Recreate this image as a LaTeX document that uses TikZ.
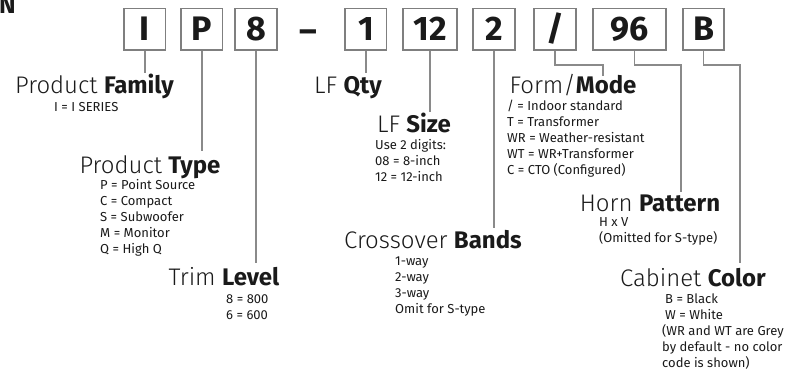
\documentclass[tikz,border=0pt]{standalone}
\usepackage{fontspec}
\setmainfont{Fira Sans}
\newfontfamily\lightfont{Fira Sans Light}
\definecolor{boxgray}{HTML}{7F7F7F}
\definecolor{linegray}{HTML}{8A8A8A}
\definecolor{ink}{HTML}{1A1A1A}
\newcommand\mysublist[4]{%
  \foreach \t [count=\i] in {#4}
    \node[subtxt, anchor=base west] (#1\i) at ({#2},{#3+16*(\i-1)}) {\t};}
\begin{document}
\begin{tikzpicture}[x=1pt,y=-1pt,
  cbox/.style={draw=boxgray, line width=1.4pt, minimum height=41.7pt, inner sep=0pt,
    font=\bfseries\fontsize{34}{36}\selectfont, text=ink, text height=23.4pt, text depth=0pt},
  conn/.style={draw=linegray, line width=1.5pt},
  head/.style={font=\fontsize{24}{28}\selectfont, text=ink, inner sep=0pt, anchor=base},
  subtxt/.style={font=\fontsize{13}{16}\selectfont, text=ink, inner sep=0pt}]
\useasboundingbox (0,0) rectangle (804,375);
% clipped heading letter
\node[font=\bfseries\fontsize{25}{28}\selectfont, text=ink, inner sep=0pt, anchor=base west] (ntop) at (-1,13) {N};
% code boxes
\node[cbox, minimum width=41.7pt] (bI) at (144.9,29.2) {I};
\node[cbox, minimum width=41.7pt] (bP) at (201.9,29.2) {P};
\node[cbox, minimum width=42pt] (b8) at (256,29.2) {8};
\node[font=\bfseries\fontsize{34}{36}\selectfont, text=ink, inner sep=0pt, anchor=base] (dash) at (308.5,42.7) {–};
\node[cbox, minimum width=41.7pt] (b1) at (365.9,29.2) {1};
\node[cbox, minimum width=54pt] (b12) at (430,29.2) {12};
\node[cbox, minimum width=42pt] (b2) at (494,29.2) {2};
\node[cbox, minimum width=42pt] (bsl) at (555,29.2) {/};
\node[cbox, minimum width=73pt] (b96) at (629.5,29.2) {96};
\node[cbox, minimum width=41pt] (bB) at (703.5,29.2) {B};
% headings
\node[head] (hfam) at (94.5,93) {{\lightfont Product} \textbf{Family}};
\node[head] (htype) at (150,173) {{\lightfont Product} \textbf{Type}};
\node[head] (htrim) at (224,285.6) {{\lightfont Trim} \textbf{Level}};
\node[head] (hqty) at (348,93) {{\lightfont LF} \textbf{Qty}};
\node[head] (hsize) at (414,132) {{\lightfont LF} \textbf{Size}};
\node[head] (hband) at (433,248) {{\lightfont Crossover} \textbf{Bands}};
\node[head] (hform) at (573,93) {{\lightfont Form/}\textbf{Mode}};
\node[head] (hhorn) at (650,211) {{\lightfont Horn} \textbf{Pattern}};
\node[head] (hcol) at (693,286) {{\lightfont Cabinet} \textbf{Color}};
% sub-lists
\mysublist{sfam}{54}{111}{I = I SERIES}
\mysublist{stype}{100}{189.3}{P = Point Source, C = Compact, S = Subwoofer, M = Monitor, Q = High Q}
\mysublist{strim}{226}{303}{8 = 800, 6 = 600}
\mysublist{ssize}{375}{149}{Use 2 digits:, 08 = 8-inch, 12 = 12-inch}
\mysublist{sband}{395}{265.7}{1-way, 2-way, 3-way, Omit for S-type}
\mysublist{sform}{507}{110.7}{/ = Indoor standard, T = Transformer, WR = Weather-resistant, WT = WR+Transformer, {C = CTO (Configured)}}
\mysublist{shorn}{599}{226.7}{H x V, {(Omitted for S-type)}}
\mysublist{scolA}{665}{303.3}{B = Black, W = White}
\mysublist{scolB}{662}{335.3}{{(WR and WT are Grey}, by default - no color, {code is shown)}}
% connector ends
\coordinate (eI) at (144.9,73);
\coordinate (eP) at (201.9,151);
\coordinate (e8) at (256,263);
\coordinate (e1) at (365.9,73);
\coordinate (e12) at (430,112);
\coordinate (e2) at (494,228);
\coordinate (kform) at (603,65);
\coordinate (eform) at (603,76);
\coordinate (khorn) at (681,65);
\coordinate (ehorn) at (681,192);
\coordinate (kcol) at (740,65);
\coordinate (ecol) at (740,263);
% connectors
\draw[conn] (bI.south) -- (eI);
\draw[conn] (bP.south) -- (eP);
\draw[conn] (b8.south) -- (e8);
\draw[conn] (b1.south) -- (e1);
\draw[conn] (b12.south) -- (e12);
\draw[conn] (b2.south) -- (e2);
\draw[conn] (bsl.south) |- (kform) -- (eform);
\draw[conn] ([xshift=5pt]b96.south) |- (khorn) -- (ehorn);
\draw[conn] (bB.south) |- (kcol) -- (ecol);
\end{tikzpicture}
\end{document}
